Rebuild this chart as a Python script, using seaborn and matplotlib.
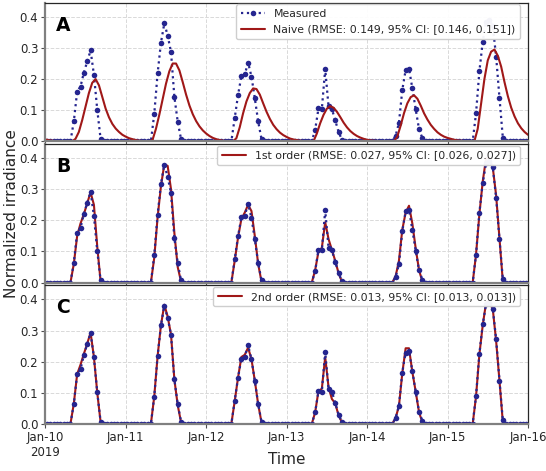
import numpy as np
import pandas as pd
import matplotlib
matplotlib.use("Agg")
import matplotlib.pyplot as plt
import seaborn as sns

# ---------------- data ----------------
# measured (hourly, daylight hours 8:30 .. 16:30; zero otherwise)
meas_day1 = [0.064, 0.160, 0.176, 0.221, 0.257, 0.292, 0.214, 0.101, 0.007]
meas_day2 = [0.088, 0.218, 0.317, 0.379, 0.340, 0.287, 0.143, 0.063, 0.007]
meas_day3 = [0.075, 0.149, 0.210, 0.215, 0.253, 0.208, 0.139, 0.064, 0.007]
meas_day4 = [0.037, 0.106, 0.104, 0.232, 0.112, 0.104, 0.067, 0.030, 0.005]
meas_day5 = [0.018, 0.059, 0.165, 0.229, 0.234, 0.170, 0.103, 0.039, 0.010]
meas_day6 = [0.090, 0.225, 0.320, 0.385, 0.390, 0.370, 0.272, 0.139, 0.011]

# naive model (hourly, from 8:00 to 7:00 next day)
naive_start_tail = [0.006, 0.004, 0.002, 0.001]
naive_day1 = [0.0, 0.008, 0.030, 0.068, 0.112, 0.155, 0.188, 0.200, 0.180, 0.142, 0.105, 0.077,
              0.056, 0.041, 0.030, 0.021, 0.015, 0.010, 0.007, 0.004, 0.002, 0.001, 0.0, 0.0]
naive_day2 = [0.005, 0.040, 0.085, 0.135, 0.185, 0.225, 0.250, 0.250, 0.228, 0.190, 0.150, 0.115,
              0.087, 0.065, 0.048, 0.035, 0.025, 0.017, 0.011, 0.007, 0.004, 0.002, 0.001, 0.0]
naive_day3 = [0.0, 0.010, 0.045, 0.090, 0.128, 0.155, 0.170, 0.168, 0.150, 0.122, 0.095, 0.072,
              0.053, 0.039, 0.028, 0.020, 0.014, 0.009, 0.006, 0.004, 0.002, 0.001, 0.0, 0.0]
naive_day4 = [0.0, 0.025, 0.058, 0.085, 0.105, 0.113, 0.108, 0.095, 0.078, 0.060, 0.045, 0.033,
              0.024, 0.017, 0.012, 0.008, 0.005, 0.003, 0.002, 0.001, 0.0, 0.0, 0.0, 0.0]
naive_day5 = [0.0, 0.015, 0.050, 0.090, 0.122, 0.142, 0.148, 0.137, 0.115, 0.090, 0.070, 0.053,
              0.040, 0.029, 0.021, 0.015, 0.011, 0.008, 0.005, 0.003, 0.002, 0.001, 0.0, 0.0]
naive_day6 = [0.0, 0.040, 0.120, 0.200, 0.260, 0.288, 0.295, 0.275, 0.240, 0.190, 0.145, 0.108,
              0.080, 0.058, 0.042, 0.030, 0.021]

# 1st order model
first_day1 = [0.060, 0.150, 0.190, 0.220, 0.255, 0.290, 0.250, 0.115, 0.003]
first_day2 = [0.080, 0.210, 0.310, 0.380, 0.375, 0.300, 0.160, 0.050, 0.003]
first_day3 = [0.070, 0.145, 0.205, 0.225, 0.250, 0.230, 0.150, 0.060, 0.003]
first_day4 = [0.040, 0.100, 0.112, 0.194, 0.140, 0.105, 0.070, 0.030, 0.003]
first_day5 = [0.020, 0.070, 0.170, 0.225, 0.247, 0.190, 0.110, 0.040, 0.003]
first_day6 = [0.090, 0.220, 0.325, 0.400, 0.400, 0.370, 0.280, 0.140, 0.003]

# 2nd order model
second_day1 = [0.065, 0.160, 0.190, 0.225, 0.258, 0.293, 0.215, 0.100, 0.005]
second_day2 = [0.088, 0.218, 0.317, 0.383, 0.345, 0.287, 0.143, 0.060, 0.005]
second_day3 = [0.073, 0.149, 0.215, 0.222, 0.245, 0.208, 0.139, 0.063, 0.005]
second_day4 = [0.037, 0.106, 0.113, 0.215, 0.118, 0.080, 0.066, 0.027, 0.005]
second_day5 = [0.019, 0.057, 0.163, 0.243, 0.243, 0.167, 0.104, 0.037, 0.005]
second_day6 = [0.088, 0.223, 0.317, 0.390, 0.395, 0.369, 0.266, 0.138, 0.005]

labels_legend = {
    "meas": "Measured",
    "naive": "Naive (RMSE: 0.149, 95% CI: [0.146, 0.151])",
    "first": "1st order (RMSE: 0.027, 95% CI: [0.026, 0.027])",
    "second": "2nd order (RMSE: 0.013, 95% CI: [0.013, 0.013])",
}
panel_letters = ["A", "B", "C"]
tick_dates = ["2019-01-10", "2019-01-11", "2019-01-12", "2019-01-13",
              "2019-01-14", "2019-01-15", "2019-01-16"]
tick_labels = ["Jan-10\n2019", "Jan-11", "Jan-12", "Jan-13", "Jan-14", "Jan-15", "Jan-16"]

# ---------------- assemble series ----------------
n_days = 6
t_meas = pd.date_range("2019-01-10 00:30", periods=24 * n_days, freq="h")
t_naive = pd.date_range("2019-01-10 00:00", periods=24 * n_days + 1, freq="h")


def daylight_series(days):
    arr = np.zeros(24 * n_days)
    for d, vals in enumerate(days):
        arr[24 * d + 8: 24 * d + 8 + len(vals)] = vals
    return arr


meas = daylight_series([meas_day1, meas_day2, meas_day3, meas_day4, meas_day5, meas_day6])
first = daylight_series([first_day1, first_day2, first_day3, first_day4, first_day5, first_day6])
second = daylight_series([second_day1, second_day2, second_day3, second_day4, second_day5, second_day6])

naive = np.zeros(24 * n_days + 1)
naive[:len(naive_start_tail)] = naive_start_tail
for d, vals in enumerate([naive_day1, naive_day2, naive_day3, naive_day4, naive_day5, naive_day6]):
    s = 24 * d + 8
    e = min(s + len(vals), len(naive))
    naive[s:e] = vals[: e - s]

df_meas = pd.DataFrame({"time": t_meas, "value": meas})
df_naive = pd.DataFrame({"time": t_naive, "value": naive})
df_first = pd.DataFrame({"time": t_meas, "value": first})
df_second = pd.DataFrame({"time": t_meas, "value": second})

# ---------------- plot ----------------
sns.set_theme(style="whitegrid")
plt.rcParams["font.family"] = ["DejaVu Sans"]

BLUE = "#25258f"
RED = "#a01818"

fig, axes = plt.subplots(3, 1, figsize=(5.46, 4.71), dpi=100, sharex=True)
L, R, T, B = 0.083, 0.967, 0.994, 0.1
fig.subplots_adjust(left=L, right=R, top=T, bottom=B, hspace=0.02)

meas_kw = dict(color=BLUE, linestyle=":", marker="o", markersize=4, markeredgewidth=0, linewidth=1.6)
model_kw = dict(color=RED, linewidth=1.5)

# Panel A
ax = axes[0]
sns.lineplot(data=df_meas, x="time", y="value", ax=ax, label=labels_legend["meas"], **meas_kw)
sns.lineplot(data=df_naive, x="time", y="value", ax=ax, label=labels_legend["naive"], **model_kw)
# Panel B
ax = axes[1]
sns.lineplot(data=df_first, x="time", y="value", ax=ax, label=labels_legend["first"], **model_kw)
sns.lineplot(data=df_meas, x="time", y="value", ax=ax, label="_nolegend_", **meas_kw)
# Panel C
ax = axes[2]
sns.lineplot(data=df_second, x="time", y="value", ax=ax, label=labels_legend["second"], **model_kw)
sns.lineplot(data=df_meas, x="time", y="value", ax=ax, label="_nolegend_", **meas_kw)

for ax, letter in zip(axes, panel_letters):
    ax.set_xlim(pd.Timestamp(tick_dates[0]), pd.Timestamp(tick_dates[-1]))
    ax.set_ylim(0, 0.445)
    ax.set_yticks([0.0, 0.1, 0.2, 0.3, 0.4])
    ax.set_yticklabels(["0.0", "0.1", "0.2", "0.3", "0.4"])
    ax.set_xlabel("")
    ax.set_ylabel("")
    ax.grid(True, linestyle="--", color="0.85", linewidth=0.7)
    ax.tick_params(axis="both", which="both", length=3, width=0.8, color="0.3",
                   labelsize=8.5, pad=2, bottom=True, left=True)
    for side in ["left", "bottom"]:
        ax.spines[side].set_color("0.5")
        ax.spines[side].set_linewidth(1.6)
    for side in ["top", "right"]:
        ax.spines[side].set_color("0.15")
        ax.spines[side].set_linewidth(0.9)
    ax.text(0.022, 0.80, letter, transform=ax.transAxes, fontsize=13.5,
            fontweight="bold", color="black")
    leg = ax.legend(loc="upper right", bbox_to_anchor=(0.984, 0.988), borderaxespad=0.0,
                    fontsize=7.85, frameon=True, borderpad=0.42,
                    handlelength=2.2, labelspacing=0.5,
                    fancybox=True, framealpha=0.95)
    leg.get_frame().set_edgecolor("0.8")

axes[-1].set_xticks([pd.Timestamp(d) for d in tick_dates])
axes[-1].set_xticklabels(tick_labels)

fig.text((L + R) / 2, 0.008, "Time", fontsize=11, ha="center", va="bottom")
fig.text(0.008, (T + B) / 2, "Normalized irradiance", fontsize=11, rotation=90,
         ha="left", va="center")

fig.savefig("out.png", dpi=100)
